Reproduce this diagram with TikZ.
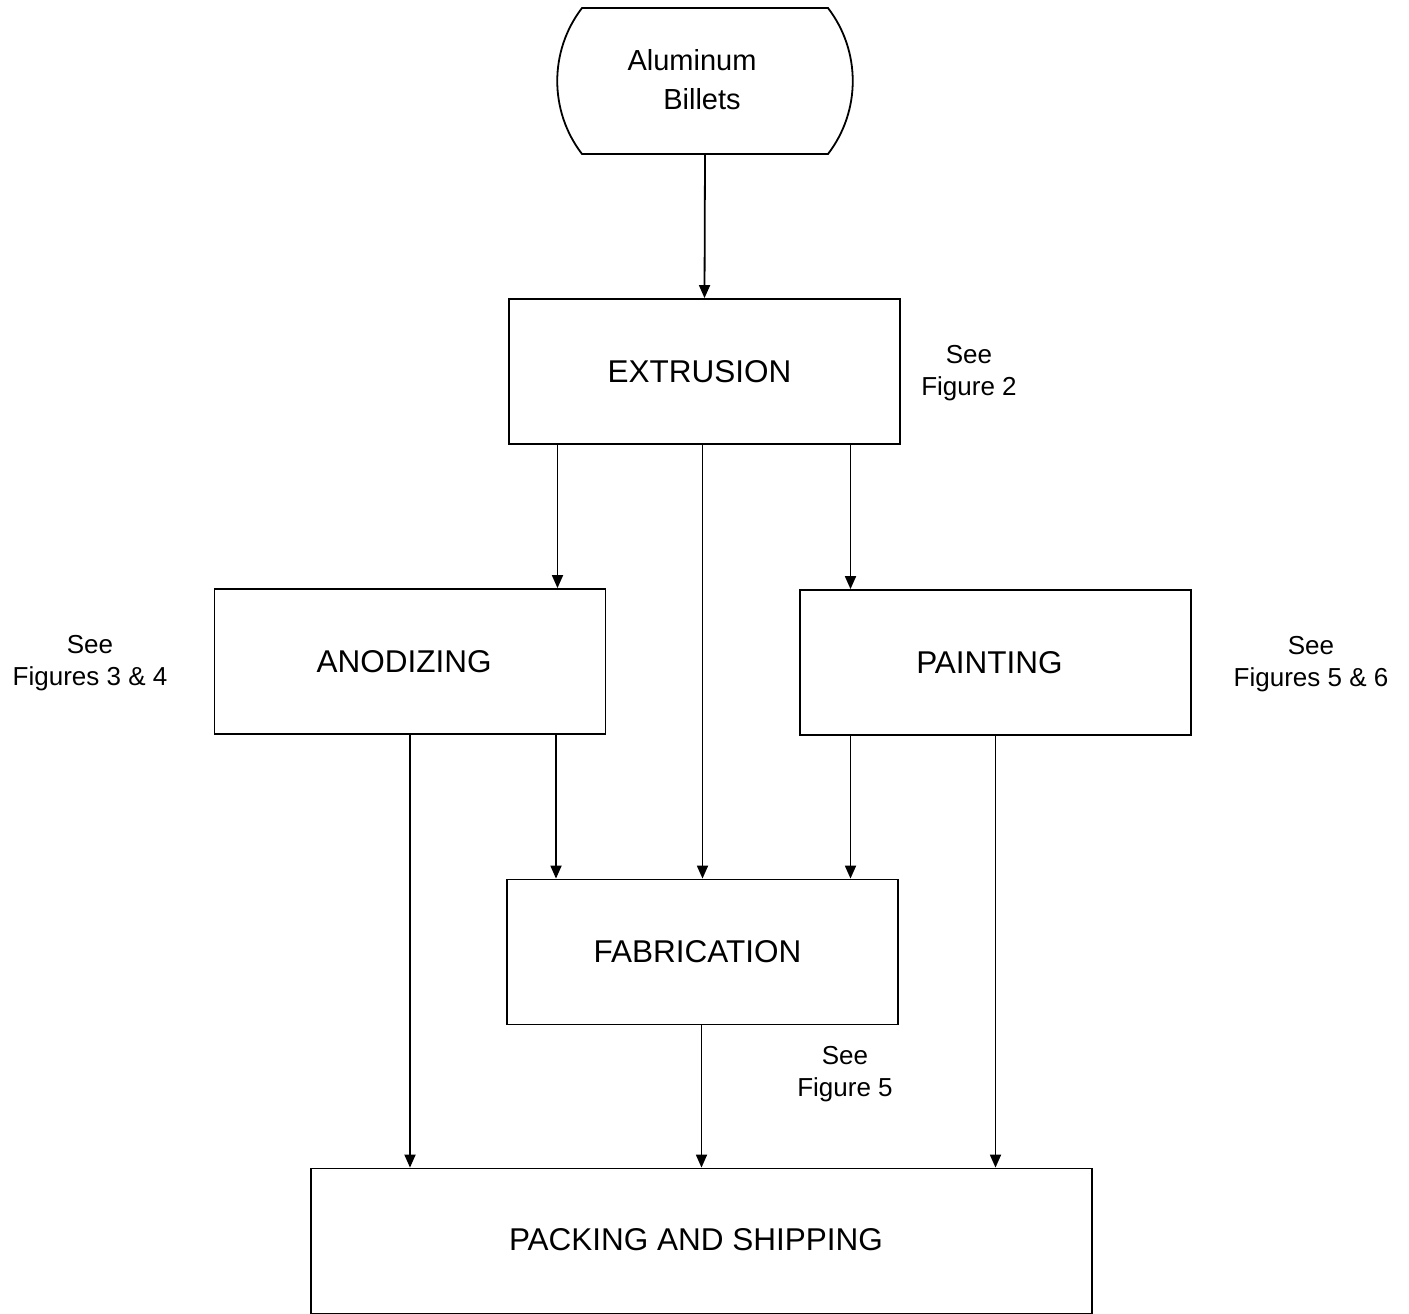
\documentclass[tikz,border=0pt]{standalone}
\usepackage{fontspec}
\setmainfont{Liberation Sans}
\usetikzlibrary{arrows.meta,calc}

\begin{document}
\begin{tikzpicture}[x=1pt,y=-1pt,
  line width=1.8pt,
  stage/.style={draw, rectangle, inner sep=0pt, minimum width=391pt,
    minimum height=145pt, font=\fontsize{31.5}{36}\selectfont},
  note/.style={align=center, inner sep=0pt, font=\fontsize{26}{32}\selectfont},
  flow/.style={-{Triangle[length=13pt,width=11pt]}, line width=1.8pt}]

  \useasboundingbox (0,0) rectangle (1409,1314);

  % raw material terminator
  \node[inner sep=0pt, minimum width=295pt, minimum height=146pt, align=center,
        font=\fontsize{29}{40}\selectfont] (bil) at (705,81) {};
  \node[align=center, inner sep=0pt, font=\fontsize{29}{39}\selectfont]
        at (692,80) {Aluminum\\\hspace*{20pt}Billets};
  \draw (582,8) -- (828,8)
        .. controls (861,51) and (861,111) .. (828,154)
        -- (582,154)
        .. controls (549,111) and (549,51) .. cycle;

  % process stages
  \node[stage] (ext) at (704.5,371.5) {EXTRUSION\hspace*{10pt}};
  \node[stage] (ano) at (410,661.5) {ANODIZING\hspace*{12pt}};
  \node[stage] (pnt) at (995.5,662.5) {PAINTING\hspace*{12pt}};
  \node[stage] (fab) at (702.5,952) {FABRICATION\hspace*{10pt}};
  \node[draw, rectangle, inner sep=0pt, minimum width=781pt, minimum height=145pt,
        font=\fontsize{31.5}{36}\selectfont] (pak) at (701.5,1241) {};
  \node[font=\fontsize{31.5}{36}\selectfont] at (696,1240) {PACKING AND SHIPPING};

  % references to detailed figures
  \node[note] (n2) at (969,373) {See\\Figure 2};
  \node[note] (n34) at (90,663) {See\\Figures 3 \& 4};
  \node[note] (n56) at (1311,664) {See\\Figures 5 \& 6};
  \node[note] (n5) at (845,1074) {See\\Figure 5};

  % connector tap points along the stage edges
  \coordinate (eL) at ($(ext.south)+(-147,0)$);
  \coordinate (eM) at ($(ext.south)+(-2,0)$);
  \coordinate (eR) at ($(ext.south)+(146,0)$);
  \coordinate (aL) at (ano.south);
  \coordinate (aR) at ($(ano.south)+(146,0)$);
  \coordinate (pL) at ($(pnt.south)+(-145,0)$);
  \coordinate (pR) at (pnt.south);
  \coordinate (fM) at ($(fab.south)+(-1,0)$);

  \draw[flow] (bil.south) -- (ext.north);
  \draw[flow] (eL) -- (eL |- ano.north);
  \draw[flow] (eM) -- (eM |- fab.north);
  \draw[flow] (eR) -- (eR |- pnt.north);
  \draw[flow] (aL) -- (aL |- pak.north);
  \draw[flow] (aR) -- (aR |- fab.north);
  \draw[flow] (pL) -- (pL |- fab.north);
  \draw[flow] (pR) -- (pR |- pak.north);
  \draw[flow] (fM) -- (fM |- pak.north);
\end{tikzpicture}
\end{document}
